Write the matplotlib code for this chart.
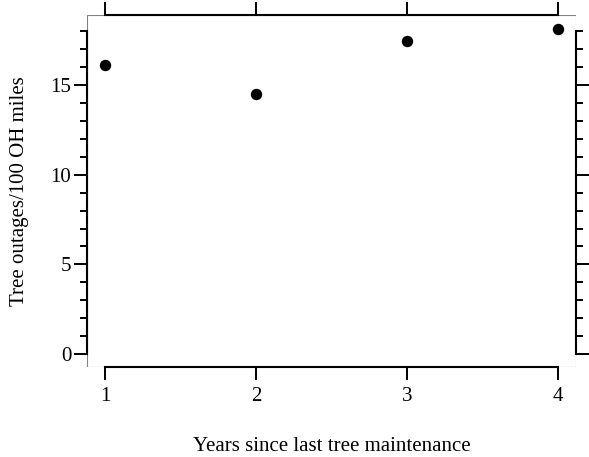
import matplotlib.pyplot as plt
from matplotlib.patches import Rectangle
from matplotlib.ticker import MultipleLocator

years = [1, 2, 3, 4]
outages = [16.1, 14.5, 17.45, 18.1]

plt.rcParams['font.family'] = ['Liberation Serif', 'DejaVu Serif']

fig = plt.figure(figsize=(5.89, 4.57), dpi=100)
ax = fig.add_axes([0.1477, 0.197, 0.978 - 0.1477, 0.967 - 0.197])

ax.plot(years, outages, 'o', color='black', markersize=7.2, clip_on=False)

ax.set_xlim(0.88, 4.12)
ax.set_ylim(-0.72, 18.9)

# thin grey frame, black axis lines only over the data range
ax.add_patch(Rectangle((0, 0), 1, 1, transform=ax.transAxes, fill=False,
                       edgecolor='#808080', linewidth=0.8, zorder=0.5))
for side in ['bottom', 'top']:
    ax.spines[side].set_bounds(1, 4)
for side in ['left', 'right']:
    ax.spines[side].set_bounds(0, 18)
for sp in ax.spines.values():
    sp.set_color('black')
    sp.set_linewidth(1.5)

ax.set_xticks(years)
ax.yaxis.set_major_locator(MultipleLocator(5))
ax.yaxis.set_minor_locator(MultipleLocator(1))
ax.tick_params(axis='x', which='major', direction='out', length=9.4, width=1.4,
               top=True, labeltop=False, labelsize=15, pad=5, colors='black')
ax.tick_params(axis='y', which='major', direction='out', length=9.4, width=1.4,
               right=True, labelright=False, labelsize=15, pad=2)
ax.tick_params(axis='y', which='minor', direction='out', length=5, width=1.4,
               right=True)

ax.set_xlabel('Years since last tree maintenance', fontsize=15, labelpad=22)
ax.set_ylabel('Tree outages/100 OH miles', fontsize=15, labelpad=15)

fig.savefig('out.png', dpi=100)
